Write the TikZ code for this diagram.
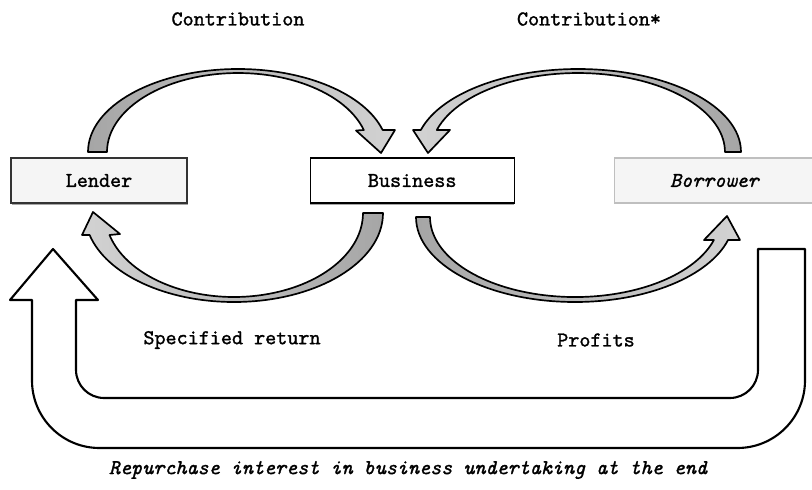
\documentclass[tikz,border=0pt]{standalone}
\usepackage{fontspec}
\setmonofont{lmmono10-regular.otf}[
	FakeBold=1.3,
	ItalicFont=lmmono10-italic.otf,
	BoldFont=lmmono10-regular.otf,
	BoldItalicFont=lmmono10-italic.otf]
\usetikzlibrary{positioning,shadows}

\begin{document}
\begin{tikzpicture}[
	x=0.025cm, y=0.025cm,
	party/.style={
		rectangle,
		minimum height=1.125cm,
		inner sep=0pt,
		line width=0.8pt,
		font=\ttfamily\fontsize{15}{17}\selectfont,
	},
	caption/.style={
		font=\ttfamily\fontsize{15}{17}\selectfont,
	},
	band/.style={
		draw=black,
		line width=1.2pt,
		line join=round,
	},
	uturn/.style={
		draw=black,
		fill=white,
		line width=1.5pt,
		line join=round,
	}
]
	\useasboundingbox (0,0) rectangle (812,-489);

	\node (lender) [party,minimum width=4.4cm,fill=gray!8,draw=black!80,
		drop shadow={shadow xshift=0.4pt,shadow yshift=-1.2pt,fill=gray!70,opacity=1}]
		at (99,-180.5) {Lender};
	\node (business) [party,minimum width=5.1cm,fill=white,draw=black,
		drop shadow={shadow xshift=0pt,shadow yshift=-1.4pt,fill=gray!70,opacity=1},
		right=3.05cm of lender] {Business};
	\node (borrower) [party,minimum width=5cm,fill=gray!8,draw=gray!50,
		right=2.475cm of business] {\itshape Borrower};

	\node (contribA) [caption] at (238,-19) {Contribution};
	\node (contribB) [caption] at (589,-19) {Contribution*};
	\node (return) [caption] at (232,-340) {Specified return};
	\node (profits) [caption] at (596,-340) {Profits};
	\node (repurchase) [caption] at (408,-470)
		{\itshape Repurchase interest in business undertaking at the end};

	% lender -> business
	\draw [band,left color=gray!70,right color=gray!35]
		(88,-152) arc[start angle=180,end angle=15.4,x radius=150,y radius=83]
		-- (395,-130) -- (381,-153) -- (356,-130.5)
		-- (363.8,-130) arc[start angle=16.2,end angle=180,x radius=131,y radius=79]
		-- cycle;
	% borrower -> business
	\draw [band,left color=gray!35,right color=gray!70]
		(741,-152) arc[start angle=0,end angle=164.6,x radius=163,y radius=83]
		-- (413,-130) -- (428,-153) -- (450,-130)
		-- (436.8,-130) arc[start angle=163.8,end angle=0,x radius=147,y radius=79]
		-- cycle;
	% business -> lender
	\draw [band,left color=gray!35,right color=gray!70]
		(383,-213) arc[start angle=0,end angle=-165.7,x radius=149,y radius=89]
		-- (82,-235) -- (93,-212) -- (120,-234)
		-- (109.5,-235) arc[start angle=-164.8,end angle=0,x radius=129,y radius=84]
		-- cycle;
	% business -> borrower
	\draw [band,left color=gray!70,right color=gray!35]
		(416,-217) arc[start angle=180,end angle=344.3,x radius=159,y radius=85]
		-- (740,-240) -- (727,-216) -- (704,-240)
		-- (713.9,-240) arc[start angle=343.3,end angle=180,x radius=145,y radius=80]
		-- cycle;

	% repurchase arrow
	\draw [uturn] (53,-249) -- (98,-300) -- (76,-300)
		[rounded corners=20pt] -- (76,-398) -- (758,-398)
		[sharp corners] -- (758,-249) -- (805,-249)
		[rounded corners=48pt] -- (805,-448) -- (32,-448)
		[sharp corners] -- (32,-300) -- (10,-300) -- cycle;

\end{tikzpicture}
\end{document}
